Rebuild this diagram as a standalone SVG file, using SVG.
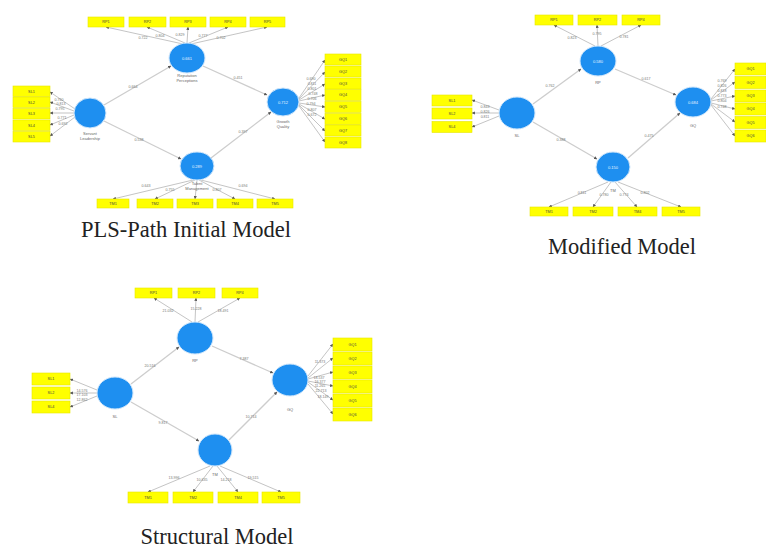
<svg xmlns="http://www.w3.org/2000/svg" width="766" height="548" viewBox="0 0 766 548">
<defs>
<marker id="ah" viewBox="0 0 6 6" refX="5.5" refY="3" markerWidth="3.2" markerHeight="3.2" markerUnits="userSpaceOnUse" orient="auto">
<path d="M0,0 L6,3 L0,6 z" fill="#555"/>
</marker>
<style>
.box{fill:#ffff00;stroke:#e6e600;stroke-width:0.6}
.lv{fill:#1e8ff0;stroke:#cfe6fb;stroke-width:1}
.bt{font-family:"Liberation Sans",Arial,sans-serif;font-size:3.8px;fill:#444;text-anchor:middle}
.ct{font-family:"Liberation Sans",Arial,sans-serif;font-size:4px;fill:#e8f4ff;text-anchor:middle}
.nl{font-family:"Liberation Sans",Arial,sans-serif;font-size:4px;fill:#666;text-anchor:middle}
.el{font-family:"Liberation Sans",Arial,sans-serif;font-size:3.6px;fill:#777;text-anchor:middle}
.ol{stroke:#aaa;stroke-width:0.7;fill:none;marker-end:url(#ah)}
.il{stroke:#cdcdcd;stroke-width:1.3;fill:none;marker-end:url(#ah)}
.title{font-family:"Liberation Serif","Times New Roman",serif;font-size:22.5px;fill:#222;text-anchor:middle}
</style>
</defs>
<rect width="766" height="548" fill="#fff"/>

<!-- ===================== Diagram 1: PLS-Path Initial Model ===================== -->
<g id="connectors-initial">
<line class="il" x1="104" y1="105" x2="171" y2="66"/>
<line class="il" x1="203" y1="66" x2="267" y2="95"/>
<line class="il" x1="104" y1="121" x2="181" y2="159"/>
<line class="il" x1="211" y1="158" x2="271" y2="112"/>
<line class="ol" x1="183" y1="44" x2="106" y2="27"/>
<line class="ol" x1="185" y1="43" x2="147" y2="27"/>
<line class="ol" x1="187" y1="43" x2="188" y2="27"/>
<line class="ol" x1="189" y1="43" x2="228" y2="27"/>
<line class="ol" x1="191" y1="44" x2="267" y2="27"/>
<line class="ol" x1="75" y1="109" x2="50" y2="92"/>
<line class="ol" x1="74" y1="111" x2="50" y2="102"/>
<line class="ol" x1="74" y1="113" x2="50" y2="113"/>
<line class="ol" x1="74" y1="115" x2="50" y2="125"/>
<line class="ol" x1="75" y1="117" x2="50" y2="136"/>
<line class="ol" x1="299" y1="98" x2="325" y2="60"/>
<line class="ol" x1="299" y1="99" x2="325" y2="72"/>
<line class="ol" x1="299" y1="100" x2="325" y2="84"/>
<line class="ol" x1="299" y1="101" x2="325" y2="95"/>
<line class="ol" x1="299" y1="103" x2="325" y2="107"/>
<line class="ol" x1="299" y1="104" x2="325" y2="119"/>
<line class="ol" x1="299" y1="105" x2="325" y2="131"/>
<line class="ol" x1="299" y1="106" x2="325" y2="142"/>
<line class="ol" x1="193" y1="180" x2="113" y2="199"/>
<line class="ol" x1="195" y1="180" x2="155" y2="199"/>
<line class="ol" x1="197" y1="180" x2="195" y2="199"/>
<line class="ol" x1="199" y1="180" x2="235" y2="199"/>
<line class="ol" x1="201" y1="180" x2="275" y2="199"/>
<text class="el" x="133" y="88">0.664</text>
<text class="el" x="238" y="79">0.451</text>
<text class="el" x="139" y="141">0.538</text>
<text class="el" x="243" y="133">0.397</text>
<text class="el" x="143" y="39">0.722</text>
<text class="el" x="160" y="37">0.804</text>
<text class="el" x="180" y="36">0.829</text>
<text class="el" x="203" y="37">0.777</text>
<text class="el" x="221" y="39">0.702</text>
<text class="el" x="59" y="101">0.760</text>
<text class="el" x="61" y="105">0.813</text>
<text class="el" x="60" y="110">0.795</text>
<text class="el" x="62" y="119">0.771</text>
<text class="el" x="63" y="125">0.692</text>
<text class="el" x="311" y="80">0.690</text>
<text class="el" x="312" y="85">0.811</text>
<text class="el" x="312" y="90">0.801</text>
<text class="el" x="313" y="95">0.748</text>
<text class="el" x="312" y="100">0.706</text>
<text class="el" x="311" y="105">0.794</text>
<text class="el" x="312" y="111">0.807</text>
<text class="el" x="312" y="116">0.672</text>
<text class="el" x="146" y="187">0.643</text>
<text class="el" x="170" y="191">0.755</text>
<text class="el" x="217" y="191">0.807</text>
<text class="el" x="243" y="187">0.694</text>
</g>
<g id="i-top">
<ellipse class="lv" cx="187" cy="58" rx="18" ry="15"/>
<text class="ct" x="187" y="59.5">0.661</text>
<text class="nl" x="187" y="77">Reputation</text>
<text class="nl" x="187" y="82">Perceptions</text>
</g>
<g id="i-top-ind">
<rect class="box" x="88" y="17" width="36" height="10"/><text class="bt" x="106" y="23.3">RP1</text>
<rect class="box" x="129" y="17" width="37" height="10"/><text class="bt" x="147.5" y="23.3">RP2</text>
<rect class="box" x="170" y="17" width="36" height="10"/><text class="bt" x="188" y="23.3">RP3</text>
<rect class="box" x="210" y="17" width="36" height="10"/><text class="bt" x="228" y="23.3">RP4</text>
<rect class="box" x="250" y="17" width="35" height="10"/><text class="bt" x="267.5" y="23.3">RP5</text>
</g>
<g id="i-left">
<ellipse class="lv" cx="90" cy="113" rx="16" ry="15"/>
<text class="nl" x="90" y="135">Servant</text>
<text class="nl" x="90" y="140">Leadership</text>
</g>
<g id="i-left-ind">
<rect class="box" x="13" y="86" width="37" height="10.5"/><text class="bt" x="31.5" y="92.5">SL1</text>
<rect class="box" x="13" y="97" width="37" height="10.5"/><text class="bt" x="31.5" y="103.5">SL2</text>
<rect class="box" x="13" y="108.5" width="37" height="10.5"/><text class="bt" x="31.5" y="115">SL3</text>
<rect class="box" x="13" y="120" width="37" height="10.5"/><text class="bt" x="31.5" y="126.5">SL4</text>
<rect class="box" x="13" y="131.5" width="37" height="10.5"/><text class="bt" x="31.5" y="138">SL5</text>
</g>
<g id="i-right">
<ellipse class="lv" cx="283" cy="102" rx="16" ry="14"/>
<text class="ct" x="283" y="103.5">0.712</text>
<text class="nl" x="283" y="123">Growth</text>
<text class="nl" x="283" y="128">Quality</text>
</g>
<g id="i-right-ind">
<rect class="box" x="325" y="54" width="36" height="11"/><text class="bt" x="343" y="60.8">GQ1</text>
<rect class="box" x="325" y="66" width="36" height="11"/><text class="bt" x="343" y="72.8">GQ2</text>
<rect class="box" x="325" y="78" width="36" height="11"/><text class="bt" x="343" y="84.8">GQ3</text>
<rect class="box" x="325" y="89.5" width="36" height="11"/><text class="bt" x="343" y="96.3">GQ4</text>
<rect class="box" x="325" y="101.5" width="36" height="11"/><text class="bt" x="343" y="108.3">GQ5</text>
<rect class="box" x="325" y="113.5" width="36" height="11"/><text class="bt" x="343" y="120.3">GQ6</text>
<rect class="box" x="325" y="125" width="36" height="11"/><text class="bt" x="343" y="131.8">GQ7</text>
<rect class="box" x="325" y="137" width="36" height="11"/><text class="bt" x="343" y="143.8">GQ8</text>
</g>
<g id="i-bottom">
<ellipse class="lv" cx="197" cy="166" rx="17" ry="14"/>
<text class="ct" x="197" y="167.5">0.289</text>
<text class="nl" x="197" y="185">Talent</text>
<text class="nl" x="197" y="189.5">Management</text>
</g>
<g id="i-bottom-ind">
<rect class="box" x="97" y="199" width="32" height="9"/><text class="bt" x="113" y="204.8">TM1</text>
<rect class="box" x="137" y="199" width="36" height="9"/><text class="bt" x="155" y="204.8">TM2</text>
<rect class="box" x="177" y="199" width="36" height="9"/><text class="bt" x="195" y="204.8">TM3</text>
<rect class="box" x="217" y="199" width="36" height="9"/><text class="bt" x="235" y="204.8">TM4</text>
<rect class="box" x="257" y="199" width="36" height="9"/><text class="bt" x="275" y="204.8">TM5</text>
</g>
<text class="title" x="186" y="237">PLS-Path Initial Model</text>

<!-- ===================== Diagram 2: Modified Model ===================== -->
<g id="connectors-modified">
<line class="il" x1="533" y1="104" x2="581" y2="69"/>
<line class="il" x1="615" y1="69" x2="676" y2="95"/>
<line class="il" x1="533" y1="122" x2="597" y2="159"/>
<line class="il" x1="628" y1="158" x2="680" y2="113"/>
<line class="ol" x1="595" y1="46" x2="554" y2="25"/>
<line class="ol" x1="598" y1="46" x2="597" y2="25"/>
<line class="ol" x1="601" y1="46" x2="641" y2="25"/>
<line class="ol" x1="499" y1="110" x2="472" y2="100"/>
<line class="ol" x1="499" y1="113" x2="472" y2="113"/>
<line class="ol" x1="499" y1="116" x2="472" y2="127"/>
<line class="ol" x1="711" y1="99" x2="735" y2="69"/>
<line class="ol" x1="711" y1="100" x2="735" y2="82"/>
<line class="ol" x1="711" y1="101" x2="735" y2="96"/>
<line class="ol" x1="711" y1="103" x2="735" y2="109"/>
<line class="ol" x1="711" y1="104" x2="735" y2="122"/>
<line class="ol" x1="711" y1="105" x2="735" y2="136"/>
<line class="ol" x1="608" y1="182" x2="549" y2="207"/>
<line class="ol" x1="611" y1="182" x2="593" y2="207"/>
<line class="ol" x1="615" y1="182" x2="637" y2="207"/>
<line class="ol" x1="618" y1="182" x2="681" y2="207"/>
<text class="el" x="550" y="87">0.762</text>
<text class="el" x="646" y="80">0.617</text>
<text class="el" x="561" y="141">0.388</text>
<text class="el" x="649" y="137">0.475</text>
<text class="el" x="572" y="39">0.823</text>
<text class="el" x="597" y="35">0.795</text>
<text class="el" x="624" y="38">0.781</text>
<text class="el" x="485" y="108">0.843</text>
<text class="el" x="485" y="113">0.826</text>
<text class="el" x="485" y="118">0.811</text>
<text class="el" x="722" y="82">0.769</text>
<text class="el" x="722" y="87">0.826</text>
<text class="el" x="722" y="92">0.818</text>
<text class="el" x="722" y="97">0.773</text>
<text class="el" x="722" y="102">0.804</text>
<text class="el" x="722" y="108">0.748</text>
<text class="el" x="582" y="194">0.811</text>
<text class="el" x="604" y="196">0.780</text>
<text class="el" x="624" y="196">0.774</text>
<text class="el" x="645" y="194">0.802</text>
</g>
<g id="m-top">
<ellipse class="lv" cx="598" cy="61" rx="18" ry="15"/>
<text class="ct" x="598" y="62.5">0.580</text>
<text class="nl" x="598" y="84">RP</text>
</g>
<g id="m-top-ind">
<rect class="box" x="535" y="15" width="38" height="10"/><text class="bt" x="554" y="21.3">RP1</text>
<rect class="box" x="578" y="15" width="39" height="10"/><text class="bt" x="597.5" y="21.3">RP2</text>
<rect class="box" x="622" y="15" width="38" height="10"/><text class="bt" x="641" y="21.3">RP4</text>
</g>
<g id="m-left">
<ellipse class="lv" cx="517" cy="113" rx="18" ry="16"/>
<text class="nl" x="517" y="137">SL</text>
</g>
<g id="m-left-ind">
<rect class="box" x="432" y="95" width="40" height="11"/><text class="bt" x="452" y="101.8">SL1</text>
<rect class="box" x="432" y="108" width="40" height="11"/><text class="bt" x="452" y="114.8">SL2</text>
<rect class="box" x="432" y="121.5" width="40" height="11"/><text class="bt" x="452" y="128.3">SL4</text>
</g>
<g id="m-right">
<ellipse class="lv" cx="693" cy="102" rx="18" ry="15"/>
<text class="ct" x="693" y="103.5">0.684</text>
<text class="nl" x="693" y="127">GQ</text>
</g>
<g id="m-right-ind">
<rect class="box" x="735" y="63" width="31" height="12"/><text class="bt" x="750.5" y="70.3">GQ1</text>
<rect class="box" x="735" y="76.5" width="31" height="12"/><text class="bt" x="750.5" y="83.8">GQ2</text>
<rect class="box" x="735" y="90" width="31" height="12"/><text class="bt" x="750.5" y="97.3">GQ3</text>
<rect class="box" x="735" y="103" width="31" height="12"/><text class="bt" x="750.5" y="110.3">GQ4</text>
<rect class="box" x="735" y="116.5" width="31" height="12"/><text class="bt" x="750.5" y="123.8">GQ5</text>
<rect class="box" x="735" y="130" width="31" height="12"/><text class="bt" x="750.5" y="137.3">GQ6</text>
</g>
<g id="m-bottom">
<ellipse class="lv" cx="613" cy="167" rx="17" ry="15"/>
<text class="ct" x="613" y="168.5">0.150</text>
<text class="nl" x="613" y="192">TM</text>
</g>
<g id="m-bottom-ind">
<rect class="box" x="530" y="207" width="38" height="9"/><text class="bt" x="549" y="212.8">TM1</text>
<rect class="box" x="573" y="207" width="40" height="9"/><text class="bt" x="593" y="212.8">TM2</text>
<rect class="box" x="618" y="207" width="39" height="9"/><text class="bt" x="637.5" y="212.8">TM4</text>
<rect class="box" x="662" y="207" width="38" height="9"/><text class="bt" x="681" y="212.8">TM5</text>
</g>
<text class="title" x="622" y="254">Modified Model</text>

<!-- ===================== Diagram 3: Structural Model ===================== -->
<g id="connectors-structural">
<line class="il" x1="131" y1="384" x2="179" y2="347"/>
<line class="il" x1="212" y1="346" x2="273" y2="373"/>
<line class="il" x1="131" y1="402" x2="199" y2="441"/>
<line class="il" x1="229" y1="440" x2="277" y2="392"/>
<line class="ol" x1="192" y1="322" x2="154" y2="298"/>
<line class="ol" x1="195" y1="322" x2="196" y2="298"/>
<line class="ol" x1="198" y1="322" x2="240" y2="298"/>
<line class="ol" x1="97" y1="390" x2="70" y2="379"/>
<line class="ol" x1="97" y1="393" x2="70" y2="393"/>
<line class="ol" x1="97" y1="396" x2="70" y2="407"/>
<line class="ol" x1="308" y1="376" x2="333" y2="344"/>
<line class="ol" x1="308" y1="378" x2="333" y2="358"/>
<line class="ol" x1="308" y1="379" x2="333" y2="372"/>
<line class="ol" x1="308" y1="381" x2="333" y2="386"/>
<line class="ol" x1="308" y1="382" x2="333" y2="400"/>
<line class="ol" x1="308" y1="384" x2="333" y2="414"/>
<line class="ol" x1="210" y1="466" x2="148" y2="492"/>
<line class="ol" x1="213" y1="466" x2="193" y2="492"/>
<line class="ol" x1="217" y1="466" x2="238" y2="492"/>
<line class="ol" x1="220" y1="466" x2="281" y2="492"/>
<text class="el" x="150" y="367">20.516</text>
<text class="el" x="244" y="360">7.387</text>
<text class="el" x="163" y="424">9.817</text>
<text class="el" x="251" y="418">10.714</text>
<text class="el" x="168" y="312">21.032</text>
<text class="el" x="196" y="310">15.228</text>
<text class="el" x="223" y="312">18.491</text>
<text class="el" x="82" y="392">14.576</text>
<text class="el" x="82" y="396">17.103</text>
<text class="el" x="82" y="401">12.862</text>
<text class="el" x="320" y="363">11.373</text>
<text class="el" x="319" y="379">18.537</text>
<text class="el" x="320" y="383">16.377</text>
<text class="el" x="320" y="387">11.265</text>
<text class="el" x="321" y="392">22.713</text>
<text class="el" x="323" y="398">18.149</text>
<text class="el" x="174" y="479">13.996</text>
<text class="el" x="202" y="481">10.635</text>
<text class="el" x="226" y="481">14.218</text>
<text class="el" x="253" y="479">19.515</text>
</g>
<g id="s-top">
<ellipse class="lv" cx="195" cy="338" rx="18" ry="16"/>
<text class="nl" x="195" y="362">RP</text>
</g>
<g id="s-top-ind">
<rect class="box" x="135" y="288" width="37" height="10"/><text class="bt" x="153.5" y="294.3">RP1</text>
<rect class="box" x="178" y="288" width="37" height="10"/><text class="bt" x="196.5" y="294.3">RP2</text>
<rect class="box" x="222" y="288" width="36" height="10"/><text class="bt" x="240" y="294.3">RP4</text>
</g>
<g id="s-left">
<ellipse class="lv" cx="115" cy="393" rx="18" ry="16"/>
<text class="nl" x="115" y="418">SL</text>
</g>
<g id="s-left-ind">
<rect class="box" x="32" y="373" width="38" height="12"/><text class="bt" x="51" y="380.3">SL1</text>
<rect class="box" x="32" y="387" width="38" height="12"/><text class="bt" x="51" y="394.3">SL2</text>
<rect class="box" x="32" y="401" width="38" height="12"/><text class="bt" x="51" y="408.3">SL4</text>
</g>
<g id="s-right">
<ellipse class="lv" cx="290" cy="380" rx="18" ry="16"/>
<text class="nl" x="290" y="411">GQ</text>
</g>
<g id="s-right-ind">
<rect class="box" x="333" y="338" width="39" height="13"/><text class="bt" x="352.5" y="345.8">GQ1</text>
<rect class="box" x="333" y="352" width="39" height="13"/><text class="bt" x="352.5" y="359.8">GQ2</text>
<rect class="box" x="333" y="366" width="39" height="13"/><text class="bt" x="352.5" y="373.8">GQ3</text>
<rect class="box" x="333" y="380" width="39" height="13"/><text class="bt" x="352.5" y="387.8">GQ4</text>
<rect class="box" x="333" y="394" width="39" height="13"/><text class="bt" x="352.5" y="401.8">GQ5</text>
<rect class="box" x="333" y="408" width="39" height="13"/><text class="bt" x="352.5" y="415.8">GQ6</text>
</g>
<g id="s-bottom">
<ellipse class="lv" cx="215" cy="450" rx="17" ry="16"/>
<text class="nl" x="215" y="476">TM</text>
</g>
<g id="s-bottom-ind">
<rect class="box" x="128" y="492" width="40" height="11"/><text class="bt" x="148" y="498.8">TM1</text>
<rect class="box" x="173" y="492" width="40" height="11"/><text class="bt" x="193" y="498.8">TM2</text>
<rect class="box" x="218" y="492" width="40" height="11"/><text class="bt" x="238" y="498.8">TM4</text>
<rect class="box" x="262" y="492" width="38" height="11"/><text class="bt" x="281" y="498.8">TM5</text>
</g>
<text class="title" x="217" y="544">Structural Model</text>
</svg>
